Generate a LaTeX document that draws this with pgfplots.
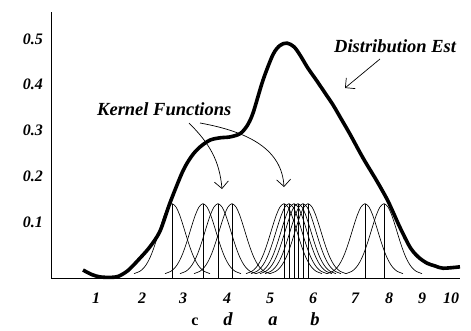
\documentclass[border=0pt]{standalone}
\usepackage{pgfplots}
\pgfplotsset{compat=1.18}
\usepackage{pgfplotstable}
\usepackage{fontspec}
\setmainfont{Liberation Serif}
\usetikzlibrary{arrows.meta}

\pgfplotstableread{
d v
-38 -0.0128
-32 -0.0075
-28 0.0002
-24 0.0132
-20 0.0325
-16 0.0577
-12 0.0862
-8 0.1133
-4 0.1328
0 0.1400
4 0.1328
8 0.1133
12 0.0862
16 0.0577
20 0.0325
24 0.0132
28 0.0002
32 -0.0075
38 -0.0128
}\kernel

\pgfplotstableread{
x v
83 -0.005
92 -0.015
100 -0.020
110 -0.021
118 -0.019
128 -0.006
140 0.021
150 0.046
160 0.080
170 0.142
183 0.212
192 0.245
200 0.264
210 0.279
220 0.284
230 0.286
240 0.293
247 0.310
253 0.338
263 0.410
273 0.466
280 0.486
287 0.491
294 0.483
300 0.465
308 0.436
317 0.408
325 0.382
333 0.356
341 0.326
350 0.292
363 0.240
377 0.189
387 0.150
393 0.122
400 0.088
410 0.045
418 0.024
427 0.010
435 0.004
443 -0.001
460 0.002
}\dist

\newcommand{\lab}{\fontsize{18.5}{21}\selectfont\bfseries\itshape}

\begin{document}
\begin{tikzpicture}[x=1pt,y=1pt]
\useasboundingbox (0,0) rectangle (471,-330);
\begin{axis}[
  scale only axis, width=409pt, height=266pt,
  at={(51pt,-278pt)}, anchor=south west,
  xmin=51, xmax=460, ymin=-0.0224, ymax=0.559,
  axis lines*=left,
  axis line style={line width=0.9pt},
  major tick length=0pt,
  xtick={96,142,183,227,270,313,355,389,422,451},
  xticklabels={1,2,3,4,5,6,7,8,9,10},
  ytick={0.1,0.2,0.3,0.4,0.5},
  yticklabels={0.1,0.2,0.3,0.4,0.5},
  tick label style={font=\fontsize{16}{18}\selectfont\bfseries\itshape},
  xticklabel style={anchor=base, yshift=-25pt},
  yticklabel style={anchor=east, inner sep=0pt, xshift=-8pt},
  clip=false,
]
\pgfplotsinvokeforeach{172,203,218,232,284,289,294,298,303,308,365,384}{
  \addplot[black, line width=0.65pt, smooth, no markers] table[x expr=\thisrow{d}+#1, y=v]{\kernel};
  \addplot[black, line width=0.65pt, no markers] coordinates {(#1,-0.0224) (#1,0.14)};
}
\addplot[black, line width=3.6pt, smooth, no markers] table[x=x, y=v]{\dist};
\end{axis}
\node[anchor=base west, inner sep=0pt] at (97,-115) {\lab Kernel Functions};
\node[anchor=base west, inner sep=0pt] at (334,-52) {\lab Distribution Est};
\draw[line width=0.7pt, -{Straight Barb[length=7pt,width=14pt]}] (380,-59) -- (345,-88);
\draw[line width=0.7pt, -{Straight Barb[length=7pt,width=14pt]}] (189,-123) to[out=-45,in=95] (222,-189);
\draw[line width=0.7pt, -{Straight Barb[length=7pt,width=14pt]}] (200,-123) .. controls (250,-132) and (282,-150) .. (284,-187);
\node[anchor=base, inner sep=0pt] at (195,-325) {\fontsize{16}{18}\selectfont\bfseries c};
\node[anchor=base, inner sep=0pt] at (228,-325) {\lab d};
\node[anchor=base, inner sep=0pt] at (273,-325) {\lab a};
\node[anchor=base, inner sep=0pt] at (315,-325) {\lab b};
\end{tikzpicture}
\end{document}
